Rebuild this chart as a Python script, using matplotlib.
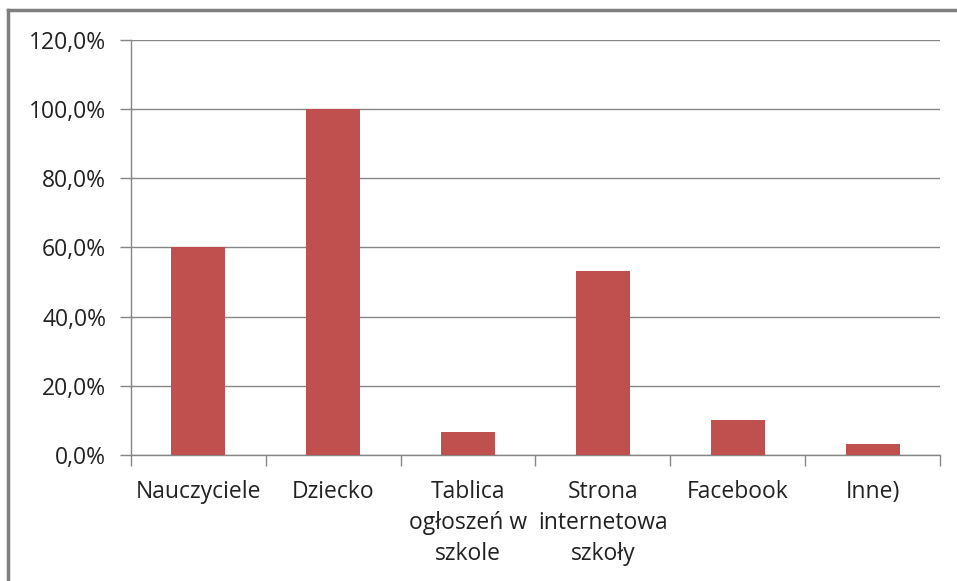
import matplotlib.pyplot as plt
from matplotlib.lines import Line2D
from matplotlib.ticker import FuncFormatter

# dane
kategorie = ['Nauczyciele', 'Dziecko', 'Tablica\nogłoszeń w\nszkole',
             'Strona\ninternetowa\nszkoły', 'Facebook', 'Inne)']
wartosci = [60.0, 100.0, 6.7, 53.3, 10.0, 3.3]
os_y = [0, 20, 40, 60, 80, 100, 120]

kolor_slupka = '#C0504D'
kolor_siatki = '#868686'

plt.rcParams['font.family'] = ['Open Sans', 'DejaVu Sans']

fig = plt.figure(figsize=(9.57, 5.81), dpi=100)
ax = fig.add_axes([0.1369, 0.2169, 0.8453, 0.7143])

x = list(range(len(kategorie)))
ax.bar(x, wartosci, width=0.4, color=kolor_slupka, zorder=3)

ax.set_xlim(-0.5, len(kategorie) - 0.5)
ax.set_ylim(0, 120)
ax.set_yticks(os_y)
ax.yaxis.set_major_formatter(FuncFormatter(lambda v, p: f'{v:.1f}%'.replace('.', ',')))
ax.grid(axis='y', color=kolor_siatki, linewidth=1, zorder=0)

# znaczniki osi X na granicach kategorii
ax.set_xticks([i - 0.5 for i in range(len(kategorie) + 1)])
ax.set_xticklabels([])
ax.set_xticks(x, minor=True)
ax.set_xticklabels(kategorie, minor=True, fontsize=16.5, color='#222222', linespacing=1.4)
ax.tick_params(axis='x', which='minor', length=0, pad=18)
ax.tick_params(axis='x', which='major', length=8, color=kolor_siatki, width=1)
ax.tick_params(axis='y', length=8, color=kolor_siatki, width=1, labelsize=16.5,
               labelcolor='#222222', pad=10)

for s in ['top', 'right']:
    ax.spines[s].set_visible(False)
for s in ['left', 'bottom']:
    ax.spines[s].set_color(kolor_siatki)
    ax.spines[s].set_linewidth(1)

# ramka wykresu (lewa i górna krawędź)
fig.add_artist(Line2D([8 / 957, 8 / 957], [0, 1 - 10 / 581], color='#7f7f7f', linewidth=2.5,
                      transform=fig.transFigure))
fig.add_artist(Line2D([8 / 957, 1], [1 - 10 / 581, 1 - 10 / 581], color='#7f7f7f', linewidth=2.5,
                      transform=fig.transFigure))

fig.savefig('out.png', dpi=100)
